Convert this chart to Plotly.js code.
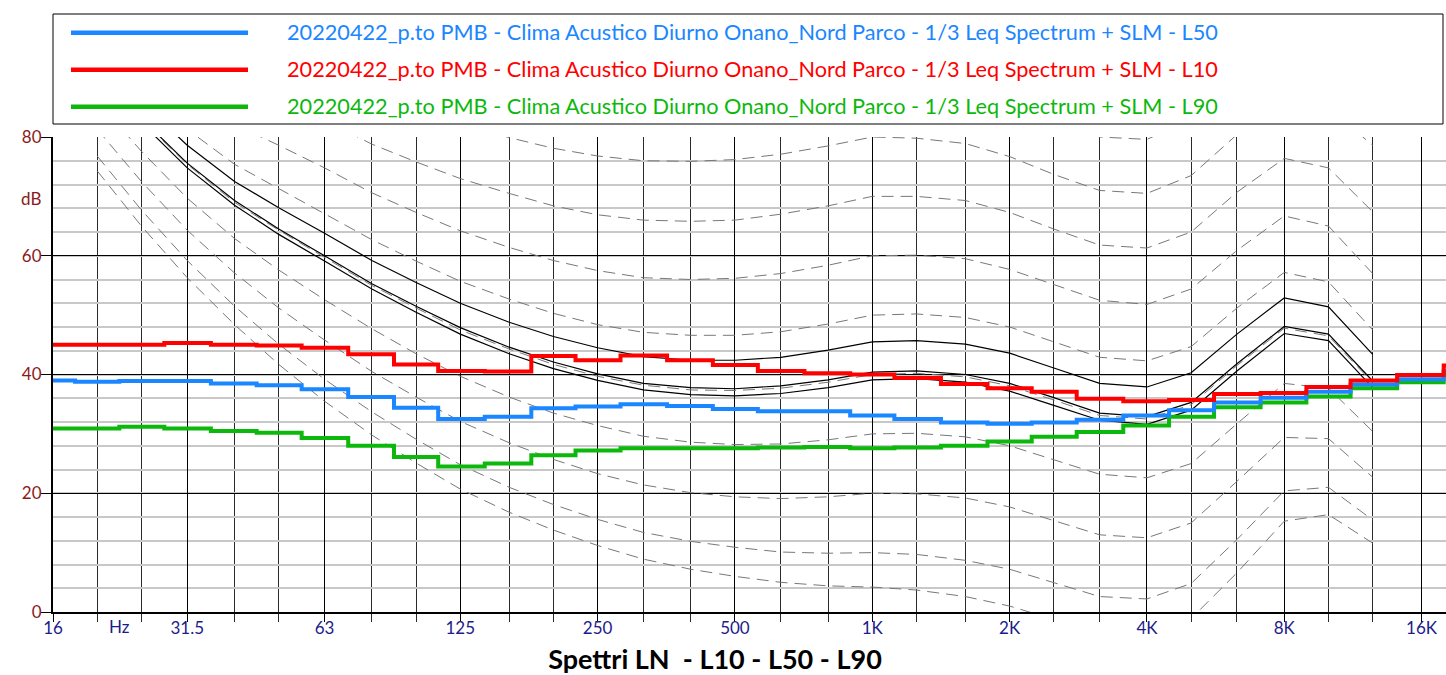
<!DOCTYPE html>
<html>
<head>
<meta charset="utf-8">
<script src="https://cdn.plot.ly/plotly-3.0.1.min.js"></script>
<style>html,body{margin:0;padding:0;background:#fff;}#chart{width:1446px;height:675px;}</style>
</head>
<body>
<div id="chart"></div>
<script>
// 1/3-octave bands (Hz) for the measured spectra
const bands = [16,20,25,31.5,40,50,63,80,100,125,160,200,250,315,400,500,630,800,1000,1250,1600,2000,2500,3150,4000,5000,6300,8000,10000,12500,16000,20000];
const L50 = [39.0,38.8,38.9,38.9,38.5,38.2,37.5,36.2,34.4,32.5,32.9,34.3,34.6,35.0,34.7,34.2,33.8,33.8,33.1,32.5,31.9,31.7,31.9,32.4,33.1,34.0,35.3,36.1,37.1,38.3,39.2,40.6];
const L10 = [45.0,45.0,45.0,45.3,45.0,44.9,44.5,43.4,41.7,40.6,40.5,43.1,42.4,43.2,42.4,41.6,40.6,40.2,40.0,39.4,38.4,37.7,37.1,35.9,35.5,35.7,36.7,36.9,37.9,39.0,39.9,41.5];
const L90 = [30.9,30.9,31.2,30.9,30.5,30.2,29.3,28.0,26.1,24.5,25.0,26.4,27.2,27.6,27.6,27.6,27.7,27.8,27.6,27.7,28.0,28.7,29.5,30.3,31.4,32.9,34.5,35.3,36.3,37.7,38.7,40.3];

// reference curves (dashed grey: hearing threshold and 10..90 phon contours)
const curveFreq = [20,25,31.5,40,50,63,80,100,125,160,200,250,315,400,500,630,800,1000,1250,1600,2000,2500,3150,4000,5000,6300,8000,10000,12500];
const cThr = [74.3,65.0,56.3,48.4,41.7,35.5,29.8,25.1,20.7,16.8,13.8,11.2,8.9,7.2,6.0,5.0,4.4,4.2,3.7,2.6,1.0,-1.2,-3.6,-3.9,-1.1,6.6,15.3,16.4,11.6];
const c10 = [76.8,67.7,59.2,51.5,45.1,39.2,33.7,29.1,24.8,21.0,18.1,15.6,13.4,11.9,10.9,10.1,9.9,10.0,9.7,8.7,7.2,5.0,2.6,2.2,4.8,12.2,20.4,21.0,15.5];
const c20 = [81.3,72.5,64.3,57.1,51.2,45.8,40.5,36.2,32.1,28.5,25.7,23.3,21.4,20.1,19.4,19.1,19.4,20.0,19.9,19.2,17.7,15.4,13.0,12.5,15.0,22.0,29.4,29.2,22.7];
const c30 = [86.0,77.6,69.7,62.9,57.6,52.6,47.7,43.5,39.7,36.2,33.5,31.4,29.6,28.6,28.2,28.3,29.0,30.0,30.1,29.5,28.0,25.7,23.2,22.6,25.0,31.7,38.5,37.7,30.4];
const c40 = [91.0,82.9,75.4,69.0,64.3,59.7,55.0,51.2,47.5,44.3,41.7,39.7,38.2,37.4,37.3,37.7,38.7,40.0,40.2,39.6,38.1,35.7,33.1,32.5,34.9,41.5,47.8,46.5,38.6];
const c50 = [null,88.5,81.3,75.4,71.3,67.1,62.7,59.1,55.7,52.7,50.3,48.4,47.1,46.6,46.6,47.2,48.5,50.0,50.2,49.6,48.0,45.5,42.9,42.3,44.7,51.2,57.2,55.6,47.5];
const c60 = [null,null,87.6,82.1,78.6,74.8,70.6,67.3,64.2,61.4,59.2,57.5,56.3,56.0,56.2,57.0,58.4,60.0,60.1,59.5,57.7,55.1,52.5,51.8,54.4,60.9,66.7,65.0,57.0];
const c70 = [null,null,null,null,86.4,82.8,78.8,75.8,73.0,70.5,68.4,66.9,66.0,65.8,66.0,67.0,68.4,70.0,70.0,69.3,67.3,64.5,61.8,61.3,64.0,70.7,76.4,74.8,67.4];
const c80 = [null,null,null,null,null,null,87.4,84.7,82.2,79.9,78.1,76.8,76.0,75.9,76.2,77.1,78.5,80.0,79.8,78.9,76.7,73.7,71.0,70.5,73.5,80.4,86.3,84.9,78.6];
const c90 = [null,null,null,null,null,null,null,null,null,null,null,null,null,null,null,null,null,90.0,89.5,88.4,85.9,82.7,80.0,79.6,82.9,90.1,null,null,null];
// solid black curves
const k1 = [null,85.9,78.6,72.5,68.1,63.8,59.2,55.5,52.0,48.8,46.4,44.5,43.0,42.4,42.4,42.9,44.1,45.5,45.7,45.1,43.6,41.1,38.5,37.9,40.3,46.8,52.9,51.4,43.4];
const k2 = [null,83.1,75.6,69.3,64.5,60.0,55.3,51.5,47.9,44.6,42.1,40.1,38.5,37.8,37.6,38.1,39.1,40.4,40.6,40.0,38.5,36.1,33.5,32.9,35.3,41.8,48.1,46.8,38.9];
const k3 = [null,82.4,74.8,68.5,63.6,59.1,54.4,50.5,46.8,43.5,41.0,39.0,37.4,36.6,36.4,36.8,37.8,39.1,39.3,38.7,37.2,34.8,32.3,31.6,34.0,40.6,46.9,45.7,37.8];

// axis ticks
const majorTicks = [16,31.5,63,125,250,500,1000,2000,4000,8000,16000];
const majorText = ['16','31.5','63','125','250','500','1K','2K','4K','8K','16K'];
const minorTicks = [20,25,40,50,80,100,160,200,315,400,630,800,1250,1600,2500,3150,5000,6300,10000,12500];
const yTicks = [0,20,40,60,80];

const seriesNames = [
  '20220422_p.to PMB - Clima Acustico Diurno Onano_Nord Parco - 1/3 Leq Spectrum + SLM - L50',
  '20220422_p.to PMB - Clima Acustico Diurno Onano_Nord Parco - 1/3 Leq Spectrum + SLM - L10',
  '20220422_p.to PMB - Clima Acustico Diurno Onano_Nord Parco - 1/3 Leq Spectrum + SLM - L90'
];
const titleText = 'Spettri LN\u00a0 - L10 - L50 - L90';

// ---- layout geometry (pixels) ----
const W = 1446, H = 675, ML = 53, MR = 0, MT = 137, MB = 63;
const PW = W - ML - MR, PH = H - MT - MB;
const xp = px => (px - ML) / PW;
const yp = py => (H - MB - py) / PH;
const pxPerDecade = 456.2;
const xr0 = Math.log10(16), xr1 = xr0 + PW / pxPerDecade;

const BLUE = '#1a86ff', RED = '#ff0000', GREEN = '#0cb80c';
const FONT = 'Lato, "Open Sans", sans-serif';

const traces = [];
const dashStyle = {color: '#787878', width: 1, dash: '12px,7px'};
[cThr, c10, c20, c30, c40, c50, c60, c70, c80, c90].forEach(c => {
  traces.push({x: curveFreq, y: c, type: 'scatter', mode: 'lines', line: dashStyle, hoverinfo: 'skip', showlegend: false, connectgaps: false});
});
[k1, k2, k3].forEach(c => {
  traces.push({x: curveFreq, y: c, type: 'scatter', mode: 'lines', line: {color: '#000', width: 1.2}, hoverinfo: 'skip', showlegend: false});
});
traces.push({x: bands, y: L90, type: 'scatter', mode: 'lines', line: {color: GREEN, width: 4, shape: 'hvh'}, name: seriesNames[2], showlegend: false});
traces.push({x: bands, y: L50, type: 'scatter', mode: 'lines', line: {color: BLUE, width: 4, shape: 'hvh'}, name: seriesNames[0], showlegend: false});
traces.push({x: bands, y: L10, type: 'scatter', mode: 'lines', line: {color: RED, width: 4, shape: 'hvh'}, name: seriesNames[1], showlegend: false});

const legendY = [32.7, 69.7, 106.7];
const legendCol = [BLUE, RED, GREEN];
const shapes = [
  {type: 'rect', xref: 'paper', yref: 'paper', x0: xp(53), x1: xp(1443), y0: yp(124), y1: yp(14), line: {color: '#000', width: 1}, fillcolor: 'rgba(0,0,0,0)'}
];
const annotations = [];
legendY.forEach((y, i) => {
  shapes.push({type: 'line', xref: 'paper', yref: 'paper', x0: xp(71), x1: xp(248), y0: yp(y), y1: yp(y), line: {color: legendCol[i], width: 4.5}});
  annotations.push({xref: 'paper', yref: 'paper', x: xp(285), y: yp(y - 1), xanchor: 'left', yanchor: 'middle', showarrow: false, text: seriesNames[i], font: {family: FONT, size: 21.7, color: legendCol[i]}});
});
annotations.push({xref: 'paper', yref: 'paper', x: xp(31), y: yp(198), xanchor: 'center', yanchor: 'middle', showarrow: false, text: 'dB', font: {family: FONT, size: 17, color: '#8b1a1a'}});
annotations.push({xref: 'x', yref: 'paper', x: Math.log10(22.4), y: yp(626), xanchor: 'center', yanchor: 'middle', showarrow: false, text: 'Hz', font: {family: FONT, size: 17, color: '#1c1c8a'}});

const layout = {
  width: W, height: H,
  margin: {l: ML, r: MR, t: MT, b: MB, pad: 0},
  paper_bgcolor: '#fff', plot_bgcolor: '#fff',
  showlegend: false,
  title: {text: titleText, font: {family: FONT, size: 27, color: '#000', weight: 'bold'}, xref: 'container', yref: 'container', x: 715 / W, y: 1 - 660 / H, xanchor: 'center', yanchor: 'middle'},
  xaxis: {
    type: 'log', range: [xr0, xr1], fixedrange: true,
    tickmode: 'array', tickvals: majorTicks, ticktext: majorText,
    showgrid: true, gridcolor: '#000', gridwidth: 1,
    ticks: 'outside', ticklen: 8, tickcolor: '#000', tickwidth: 1,
    ticklabelstandoff: -8,
    showline: true, linecolor: '#000', linewidth: 2,
    tickfont: {family: FONT, size: 17, color: '#1c1c8a'},
    minor: {tickmode: 'array', tickvals: minorTicks, showgrid: true, gridcolor: '#2a2a2a', gridwidth: 1, ticks: 'outside', ticklen: 8, tickcolor: '#2a2a2a'},
    zeroline: false
  },
  yaxis: {
    range: [0, 80], fixedrange: true,
    tickmode: 'array', tickvals: yTicks,
    showgrid: true, gridcolor: '#000', gridwidth: 1.3,
    ticks: 'outside', ticklen: 10, tickcolor: '#000',
    ticklabelstandoff: -4,
    showline: true, linecolor: '#000', linewidth: 2,
    tickfont: {family: FONT, size: 17, color: '#8b1a1a'},
    minor: {dtick: 4, showgrid: true, gridcolor: '#c8c8c8', gridwidth: 2},
    zeroline: false
  },
  shapes: shapes,
  annotations: annotations
};

Plotly.newPlot('chart', traces, layout, {displayModeBar: false, staticPlot: true});
</script>
</body>
</html>
